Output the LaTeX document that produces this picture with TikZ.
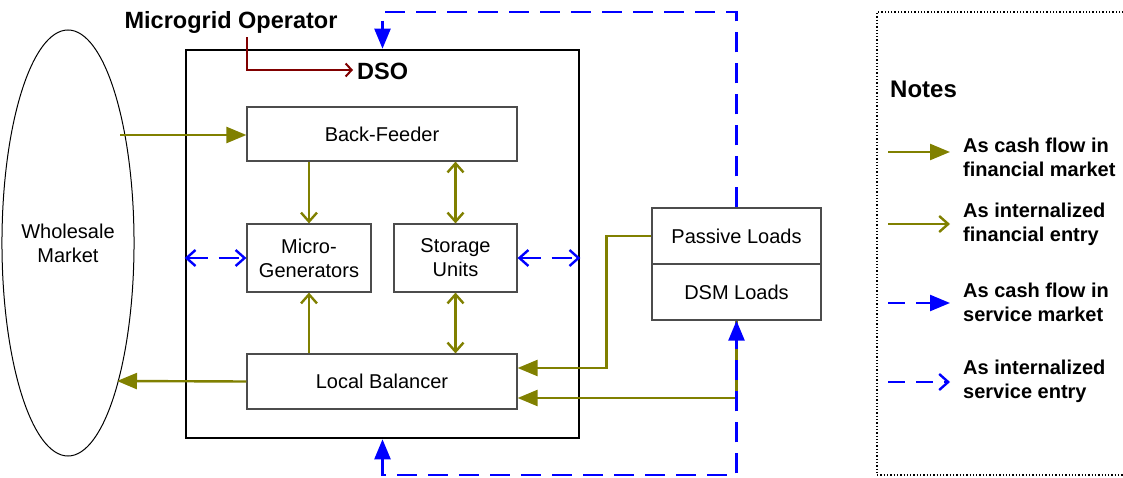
\documentclass[tikz,border=0pt]{standalone}
\usepackage{fontspec}
\setmainfont{Liberation Sans}
\usetikzlibrary{arrows.meta,shapes.geometric,calc}
\definecolor{finolive}{RGB}{128,128,0}
\definecolor{svcblue}{RGB}{0,0,255}
\definecolor{opred}{RGB}{128,0,0}
\tikzset{
  unitbox/.style={draw=black!70, line width=1.2pt, fill=white, font=\fontsize{20}{24}\selectfont, align=center, inner sep=0pt},
  cashfin/.style={finolive, line width=2.4pt, -{Triangle[length=20pt,width=16pt]}},
  intfin/.style={finolive, line width=2.4pt, -{Straight Barb[length=9pt,width=16pt]}},
  intfinboth/.style={finolive, line width=2.4pt, {Straight Barb[length=9pt,width=16pt]}-{Straight Barb[length=9pt,width=16pt]}},
  svcdash/.style={svcblue, line width=2.4pt, dash pattern=on 20pt off 11pt},
  cashsvc/.style={svcdash, -{Triangle[length=20pt,width=16pt]}},
  intsvc/.style={svcdash, -{Straight Barb[length=9pt,width=16pt]}},
  intsvcboth/.style={svcdash, {Straight Barb[length=9pt,width=16pt]}-{Straight Barb[length=9pt,width=16pt]}},
  boldlabel/.style={font=\bfseries\fontsize{23.5}{28}\selectfont, inner sep=0pt},
  legtext/.style={font=\bfseries\fontsize{20}{24}\selectfont, align=left, anchor=west, inner sep=0pt},
}
\begin{document}
\begin{tikzpicture}[x=1pt,y=-1pt]
\useasboundingbox (0,0) rectangle (1123,478);

% wholesale market
\node[draw, line width=1pt, ellipse, minimum width=126pt, minimum height=426pt,
      inner sep=0pt, align=center, font=\fontsize{20}{24}\selectfont] (wm) at (68,243) {Wholesale\\Market};

% DSO frame and its units
\node[draw, line width=2.6pt, minimum width=393pt, minimum height=388pt, inner sep=0pt] (dso) at (382.5,244) {};
\node[boldlabel] (mo) at (231,22) {Microgrid Operator};
\node[boldlabel, anchor=west] (dsolbl) at (357,71) {DSO};

\node[unitbox, minimum width=270pt, minimum height=54pt] (bf) at (382,134) {Back-Feeder};
\node[unitbox, minimum width=124pt, minimum height=68pt] (mg) at (309,258) {Micro-\\Generators};
\node[unitbox, minimum width=123pt, minimum height=68pt] (su) at (455.5,258) {Storage\\Units};
\node[unitbox, minimum width=270pt, minimum height=55pt] (lb) at (382,381.5) {Local Balancer};

\node[unitbox, minimum width=169pt, minimum height=56pt] (pl) at (736.5,236) {Passive Loads};
\node[unitbox, minimum width=169pt, minimum height=56pt] (dsm) at (736.5,292) {DSM Loads};

% connection points
\coordinate (wmin) at (120,135);
\coordinate (wmout) at (117,381);
\coordinate (lbA) at ($(lb.east)+(0,-13.5)$);
\coordinate (lbB) at ($(lb.east)+(0,16.5)$);
\coordinate (topY) at (0,12);
\coordinate (botY) at (0,475);

% operator link
\draw[opred, line width=2pt, -{Straight Barb[length=6pt,width=13pt]}]
  ($(mo.south)+(16,4)$) |- ($(dsolbl.west)+(-4,-1)$);

% financial flows
\draw[cashfin] (wmin) -- (wmin -| bf.west);
\draw[cashfin] (lb.west) -- (wmout);
\draw[intfin] (bf.south -| mg) -- (mg.north);
\draw[intfinboth] (bf.south -| su) -- (su.north);
\draw[intfin] (lb.north -| mg) -- (mg.south);
\draw[intfinboth] (su.south) -- (lb.north -| su);
\draw[cashfin] (pl.west) -- ++(-45,0) |- (lbA);
\draw[cashfin] (dsm.south) -- (dsm.south |- lbB) -- (lbB);

% service flows
\draw[intsvcboth] (mg.west -| dso.west) -- (mg.west);
\draw[intsvcboth] (su.east) -- (su.east -| dso.east);
\draw[cashsvc] (pl.north) -- (pl.north |- topY) -| (dso.north);
\draw[svcdash, {Triangle[length=20pt,width=16pt]}-{Triangle[length=20pt,width=16pt]}]
  (dso.south) -- (dso.south |- botY) -| (dsm.south);

% legend
\draw[line width=1.3pt, dotted] (1130,12) -- (877,12) -- (877,475) -- (1130,475);
\node[font=\bfseries\fontsize{24}{28}\selectfont, anchor=west, inner sep=0pt] (notes) at (890,89) {Notes};

\coordinate (la1) at (888,152); \coordinate (lb1) at (950,152);
\coordinate (la2) at (888,224); \coordinate (lb2) at (950,224);
\coordinate (la3) at (888,303); \coordinate (lb3) at (950,303);
\coordinate (la4) at (888,382); \coordinate (lb4) at (950,382);
\draw[cashfin] (la1) -- (lb1);
\draw[intfin] (la2) -- (lb2);
\draw[svcdash, dash pattern=on 17pt off 11pt, -{Triangle[length=20pt,width=16pt]}] (la3) -- (lb3);
\draw[svcdash, dash pattern=on 17pt off 11pt, -{Straight Barb[length=9pt,width=16pt]}] (la4) -- (lb4);
\node[legtext] (t1) at (963,157) {As cash flow in\\financial market};
\node[legtext] (t2) at (963,224) {As internalized\\financial entry};
\node[legtext] (t3) at (963,302) {As cash flow in\\service market};
\node[legtext] (t4) at (963,381) {As internalized\\service entry};
\end{tikzpicture}
\end{document}
